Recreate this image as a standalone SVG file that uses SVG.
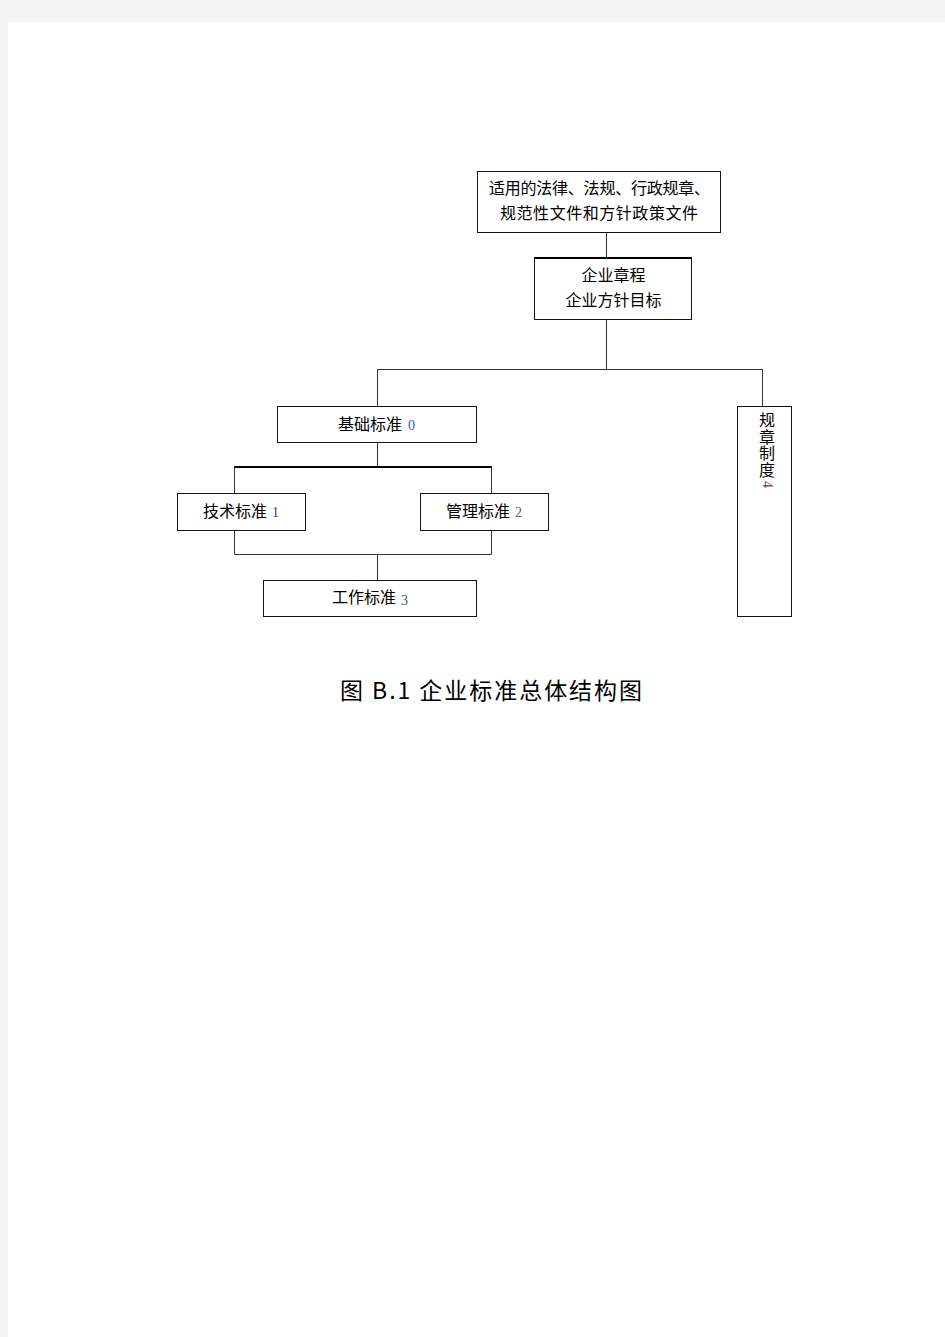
<svg xmlns="http://www.w3.org/2000/svg" width="945" height="1337" viewBox="0 0 945 1337">
<style>
.box{fill:#fff;stroke:#111;stroke-width:1}
.ln{fill:none;stroke:#333;stroke-width:1}
.thick{fill:none;stroke:#000;stroke-width:2}
.t{font-family:"Noto Sans CJK SC","Noto Sans",sans-serif;font-size:16px;fill:#000}
.v{font-family:"Noto Sans CJK SC","Noto Sans",sans-serif;font-size:16px;fill:#000;writing-mode:vertical-rl;letter-spacing:0.5px}
.n{font-family:"Liberation Serif",serif;font-size:14px}
.cap{font-family:"Noto Sans CJK SC","Noto Sans",sans-serif;font-size:23px;fill:#000}
</style>
<rect x="0" y="0" width="945" height="1337" fill="#f3f3f3"/>
<rect x="8" y="22" width="937" height="1315" fill="#fff"/>
<g id="connectors">
<path class="ln" d="M606.5 232.5V257"/>
<path class="ln" d="M606.5 319.5V369.5M377.5 369.5H762.5M377.5 369.5V406M762.5 369.5V406"/>
<path class="ln" d="M377.5 442.5V467"/>
<path class="thick" d="M234 467H492"/>
<path class="ln" d="M234.5 467V493M491.5 467V493"/>
<path class="ln" d="M234.5 530.5V554.5H491.5V530.5M377.5 554.5V580"/>
</g>
<g id="node-laws">
<rect class="box" x="477.5" y="171.5" width="243" height="61"/>
<text class="t" x="599.5" y="194" text-anchor="middle" textLength="221" lengthAdjust="spacing">适用的法律、法规、行政规章、</text>
<text class="t" x="599" y="219" text-anchor="middle" textLength="198" lengthAdjust="spacing">规范性文件和方针政策文件</text>
</g>
<g id="node-charter">
<rect class="box" x="534.5" y="257.5" width="157" height="62"/>
<path class="thick" d="M534 258H692"/>
<text class="t" x="613.5" y="281" text-anchor="middle">企业章程</text>
<text class="t" x="613.5" y="306" text-anchor="middle">企业方针目标</text>
</g>
<g id="node-basic">
<rect class="box" x="277.5" y="406.5" width="199" height="36"/>
<text class="t" x="338" y="430">基础标准<tspan class="n" dx="6" fill="#3355cc">0</tspan></text>
</g>
<g id="node-tech">
<rect class="box" x="177.5" y="493.5" width="128" height="37"/>
<text class="t" x="203" y="517">技术标准<tspan class="n" dx="5" fill="#4a2a8c">1</tspan></text>
</g>
<g id="node-mgmt">
<rect class="box" x="420.5" y="493.5" width="128" height="37"/>
<text class="t" x="446" y="517">管理标准<tspan class="n" dx="5" fill="#6a5a3a">2</tspan></text>
</g>
<g id="node-work">
<rect class="box" x="263.5" y="580.5" width="213" height="36"/>
<text class="t" x="332" y="603">工作标准<tspan class="n" dx="5" dy="2" fill="#3a5a8a">3</tspan></text>
</g>
<g id="node-rules">
<rect class="box" x="737.5" y="406.5" width="54" height="210"/>
<text class="v" x="767" y="412">规章制度<tspan class="n" dy="3" fill="#8a3a2a">4</tspan></text>
</g>
<text class="cap" x="491" y="699" text-anchor="middle" textLength="302" lengthAdjust="spacing">图 B.1 企业标准总体结构图</text>
</svg>
